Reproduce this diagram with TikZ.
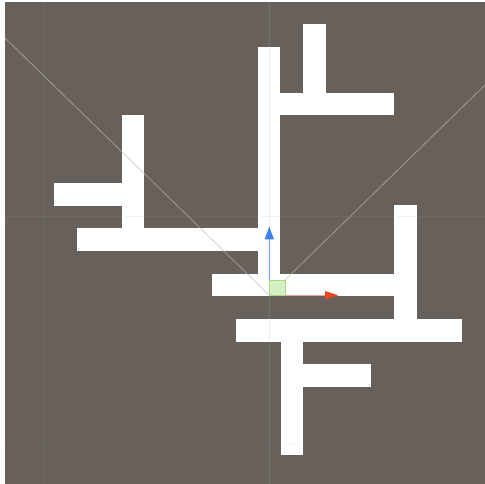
\documentclass[tikz,border=0pt]{standalone}
\definecolor{bgc}{RGB}{104,97,91}
\definecolor{diag}{RGB}{190,186,180}
\definecolor{gridc}{RGB}{150,175,190}
\definecolor{yaxis}{RGB}{60,130,240}
\definecolor{yline}{RGB}{120,165,245}
\definecolor{xaxis}{RGB}{235,70,35}
\definecolor{xline}{RGB}{240,160,150}
\definecolor{gfill}{RGB}{205,240,185}
\definecolor{gedge}{RGB}{165,220,135}
\begin{document}
\begin{tikzpicture}[x=1pt,y=-1pt,
  bar/.style={fill=white},
  diagline/.style={draw=diag,line width=0.8pt,opacity=0.65},
  gridline/.style={draw=gridc,line width=0.8pt,opacity=0.15}]
\useasboundingbox (0,0) rectangle (485,484);
\fill[white] (0,0) rectangle (485,484);
\fill[bgc] (5,2) rectangle (485,484);
% white bars
\fill[bar] (258.3,46.7) rectangle (280,296);
\fill[bar] (303.3,24) rectangle (326,92.7);
\fill[bar] (280,92.7) rectangle (394.3,115);
\fill[bar] (121.7,115) rectangle (144.3,228.3);
\fill[bar] (54,182.7) rectangle (121.7,206);
\fill[bar] (76.7,228.3) rectangle (258.3,250.7);
\fill[bar] (212.3,274) rectangle (394.3,296);
\fill[bar] (394.3,205.3) rectangle (417.3,319);
\fill[bar] (235.7,319) rectangle (462.3,341.7);
\fill[bar] (280.7,341.7) rectangle (303.3,455);
\fill[bar] (303.3,364) rectangle (371,387.3);
% grid lines
\draw[gridline,opacity=0.22] (269.3,2) -- (269.3,484);
\draw[gridline,opacity=0.08] (43,2) -- (43,484);
\draw[gridline,opacity=0.12] (5,216.7) -- (485,216.7);
\draw[gridline,opacity=0.08] (5,444) -- (485,444);
% diagonal view lines
\coordinate (o) at (269.3,295.3);
\draw[diagline] (5,38) -- (o);
\draw[diagline] (o) -- (485,85);
% gizmo
\fill[gfill,opacity=0.85] (269.3,280) rectangle (285,295.3);
\draw[gedge,line width=0.6pt] (269.3,280) rectangle (285,295.3);
\draw[yline,line width=1pt] (269.3,280) -- (269.3,238);
\fill[yaxis] (269.3,226.7) -- (264.6,239.3) -- (274,239.3) -- cycle;
\draw[xline,line width=1pt] (285,295.3) -- (326,295.3);
\fill[xaxis] (338.3,295.3) -- (325,291) -- (325,299.6) -- cycle;
\end{tikzpicture}
\end{document}
